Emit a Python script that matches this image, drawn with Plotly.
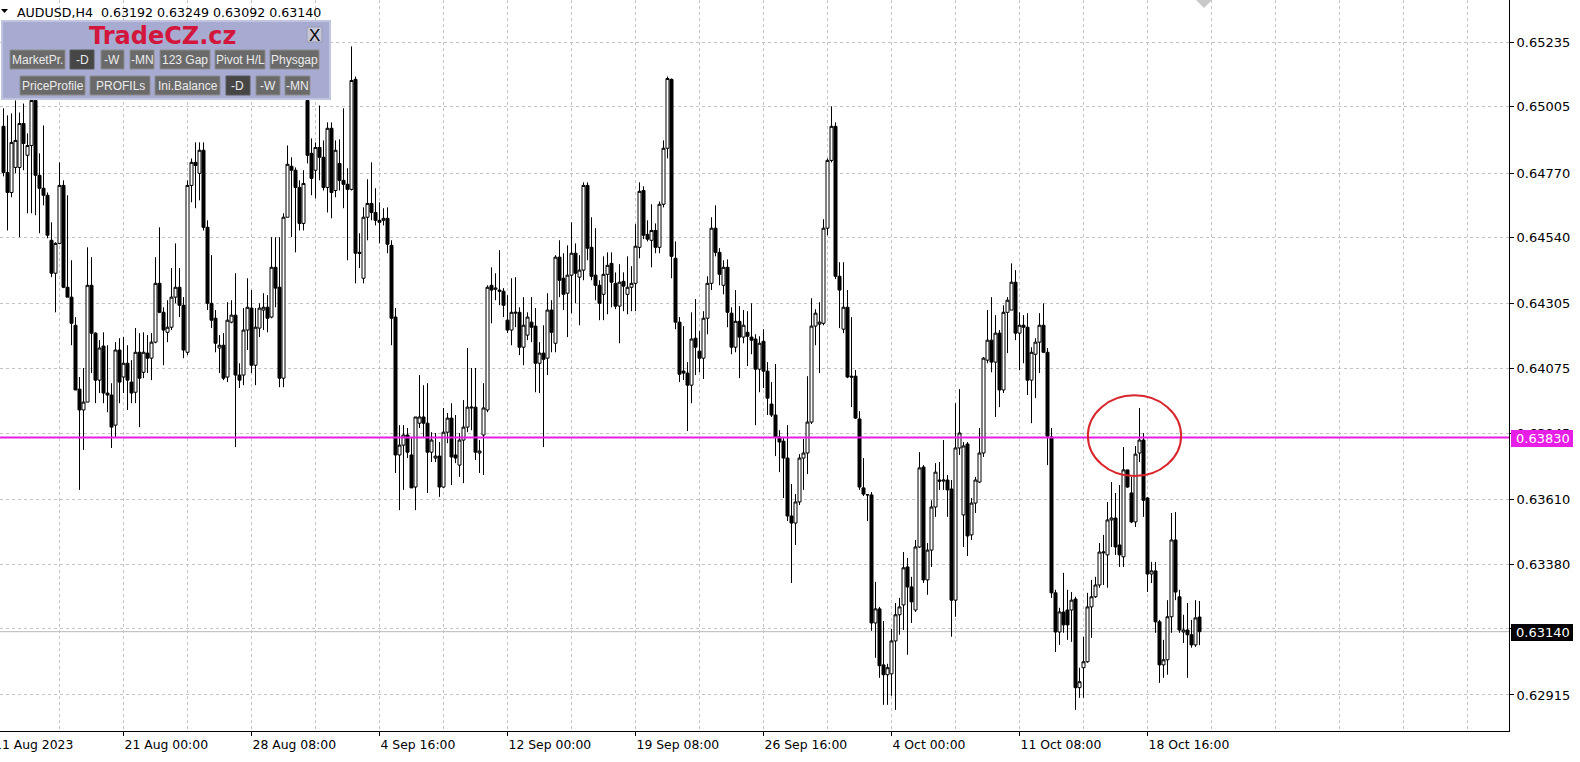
import plotly.graph_objects as go

# ---------------- data ----------------
symbol_title = "AUDUSD,H4  0.63192 0.63249 0.63092 0.63140"

opens = [
0.64936,0.64772,0.64701,0.64790,0.64790,0.64946,0.64833,0.64868,0.65028,0.64762,
0.64716,0.64691,0.64531,0.64414,0.64520,0.64726,0.64364,0.64329,0.64229,0.64002,
0.63928,0.63956,0.64371,0.64201,0.64034,0.64155,0.63988,0.63981,0.63874,0.64141,
0.64045,0.64094,0.64027,0.63991,0.64133,0.64062,0.64130,0.64112,0.64169,0.64378,
0.64275,0.64204,0.64222,0.64329,0.64364,0.64300,0.64133,0.64726,0.64808,0.64769,
0.64851,0.64577,0.64307,0.64254,0.64148,0.64158,0.64045,0.64240,0.64265,0.64052,
0.64052,0.64212,0.64290,0.64087,0.64219,0.64283,0.64293,0.64258,0.64435,0.64364,
0.64041,0.64613,0.64794,0.64780,0.64719,0.64591,0.65028,0.64840,0.64780,0.64861,
0.64826,0.64719,0.64929,0.64708,0.64804,0.64744,0.64730,0.64712,0.65103,0.64488,
0.64396,0.64613,0.64662,0.64630,0.64602,0.64602,0.64609,0.64513,0.64258,0.63768,
0.63803,0.63839,0.63768,0.63654,0.63881,0.63903,0.63881,0.63778,0.63757,0.63764,
0.63654,0.63849,0.63899,0.63768,0.63732,0.63821,0.63867,0.63935,0.63938,0.63775,
0.63839,0.63928,0.64371,0.64357,0.64354,0.64350,0.64247,0.64212,0.64272,0.64275,
0.64151,0.64194,0.64240,0.64226,0.64094,0.64130,0.64112,0.64283,0.64165,0.64471,
0.64396,0.64343,0.64407,0.64485,0.64400,0.64425,0.64726,0.64506,0.64407,0.64371,
0.64339,0.64410,0.64449,0.64378,0.64297,0.64385,0.64339,0.64364,0.64378,0.64506,
0.64708,0.64552,0.64531,0.64566,0.64506,0.64659,0.64858,0.65103,0.64467,0.64240,
0.64066,0.64059,0.64016,0.64183,0.64137,0.64112,0.64254,0.64378,0.64574,0.64488,
0.64371,0.64435,0.64272,0.64151,0.64243,0.64187,0.64204,0.64187,0.64180,0.64073,
0.64172,0.64066,0.63949,0.63910,0.63832,0.63817,0.63757,0.63551,0.63526,0.63601,
0.63757,0.63775,0.63885,0.64226,0.64233,0.64236,0.64574,0.64815,0.64936,0.64403,
0.64215,0.64293,0.64048,0.64048,0.63896,0.63651,0.63626,0.63626,0.63171,0.63221,
0.63022,0.62987,0.62990,0.63107,0.63200,0.63235,0.63370,0.63299,0.63217,0.63441,
0.63725,0.63324,0.63430,0.63583,0.63679,0.63675,0.63679,0.63647,0.63252,0.63793,
0.63555,0.63807,0.63484,0.63597,0.63672,0.63775,0.64105,0.64176,0.64098,0.64201,
0.63999,0.64275,0.64283,0.64382,0.64201,0.64229,0.64222,0.64034,0.64126,0.64169,
0.64229,0.64133,0.63832,0.63278,0.63139,0.63210,0.63217,0.63217,0.63256,0.62941,
0.63012,0.63033,0.63228,0.63264,0.63306,0.63420,0.63413,0.63537,0.63544,0.63448,
0.63406,0.63715,0.63633,0.63530,0.63775,0.63821,0.63615,0.63345,0.63356,0.63175,
0.63022,0.63040,0.63193,0.63466,0.63264,0.63139,0.63146,0.63129,0.63093,0.63192]

highs = [
0.65000,0.64975,0.64982,0.65028,0.64985,0.65017,0.64911,0.65046,0.65046,0.64840,
0.64939,0.64701,0.64595,0.64524,0.64808,0.64744,0.64691,0.64460,0.64258,0.64045,
0.64077,0.64506,0.64471,0.64204,0.64176,0.64204,0.64158,0.64023,0.64169,0.64183,
0.64187,0.64158,0.64105,0.64219,0.64201,0.64204,0.64194,0.64201,0.64471,0.64577,
0.64293,0.64318,0.64432,0.64520,0.64432,0.64329,0.64744,0.64822,0.64879,0.64879,
0.64879,0.64602,0.64478,0.64283,0.64194,0.64201,0.64311,0.64318,0.64414,0.64094,
0.64290,0.64396,0.64354,0.64290,0.64307,0.64343,0.64336,0.64542,0.64542,0.64542,
0.64627,0.64868,0.64826,0.64790,0.64744,0.64780,0.65071,0.64893,0.64879,0.65010,
0.64886,0.64950,0.64950,0.64886,0.64890,0.65000,0.64787,0.65220,0.65113,0.64556,
0.64648,0.64748,0.64808,0.64716,0.64666,0.64645,0.64648,0.64531,0.64290,0.63874,
0.63874,0.63864,0.63828,0.63903,0.64052,0.64016,0.64023,0.63849,0.63846,0.63814,
0.63935,0.63917,0.63952,0.63910,0.63846,0.63963,0.64148,0.64077,0.64077,0.63821,
0.64023,0.64371,0.64435,0.64414,0.64496,0.64361,0.64336,0.64396,0.64400,0.64293,
0.64329,0.64275,0.64329,0.64290,0.64169,0.64229,0.64343,0.64318,0.64478,0.64531,
0.64485,0.64513,0.64595,0.64520,0.64478,0.64737,0.64737,0.64613,0.64574,0.64389,
0.64474,0.64488,0.64488,0.64417,0.64446,0.64417,0.64474,0.64439,0.64588,0.64737,
0.64723,0.64602,0.64659,0.64591,0.64669,0.64886,0.65113,0.65106,0.64527,0.64258,
0.64226,0.64098,0.64275,0.64322,0.64208,0.64279,0.64403,0.64613,0.64655,0.64503,
0.64460,0.64463,0.64293,0.64354,0.64297,0.64283,0.64279,0.64307,0.64197,0.64190,
0.64215,0.64098,0.64027,0.64091,0.63856,0.63832,0.63874,0.63665,0.63629,0.63771,
0.63825,0.64048,0.64325,0.64286,0.64311,0.64606,0.64822,0.65007,0.64950,0.64453,
0.64453,0.64354,0.64258,0.64070,0.63924,0.63757,0.63629,0.63636,0.63317,0.63228,
0.63178,0.63026,0.63150,0.63242,0.63260,0.63423,0.63402,0.63335,0.63466,0.63778,
0.63732,0.63455,0.63607,0.63739,0.63743,0.63821,0.63697,0.63679,0.63952,0.64002,
0.63814,0.63814,0.63615,0.63690,0.63864,0.64116,0.64283,0.64329,0.64265,0.64212,
0.64300,0.64329,0.64449,0.64425,0.64275,0.64265,0.64272,0.64151,0.64183,0.64272,
0.64307,0.64148,0.63864,0.63289,0.63225,0.63349,0.63289,0.63281,0.63264,0.63012,
0.63122,0.63278,0.63324,0.63335,0.63455,0.63484,0.63601,0.63672,0.63633,0.63661,
0.63796,0.63715,0.63690,0.63800,0.63935,0.63846,0.63619,0.63388,0.63388,0.63182,
0.63111,0.63252,0.63562,0.63565,0.63289,0.63200,0.63242,0.63182,0.63252,0.63249]

lows = [
0.64758,0.64566,0.64684,0.64769,0.64542,0.64780,0.64627,0.64627,0.64620,0.64556,
0.64655,0.64538,0.64400,0.64275,0.64517,0.64361,0.64329,0.64158,0.63999,0.63644,
0.63786,0.63956,0.64059,0.63952,0.63988,0.63952,0.63920,0.63793,0.63832,0.63952,
0.63988,0.63928,0.63952,0.63952,0.63867,0.64041,0.64059,0.64034,0.64165,0.64272,
0.64087,0.64169,0.64212,0.64307,0.64258,0.64112,0.64123,0.64666,0.64645,0.64673,
0.64566,0.64283,0.64219,0.64133,0.64059,0.64034,0.64027,0.64236,0.63796,0.64006,
0.64016,0.64141,0.64059,0.64016,0.64187,0.64212,0.64204,0.64254,0.64293,0.64009,
0.64009,0.64613,0.64542,0.64488,0.64566,0.64566,0.64804,0.64691,0.64680,0.64744,
0.64708,0.64630,0.64609,0.64684,0.64708,0.64645,0.64460,0.64708,0.64378,0.64432,
0.64378,0.64531,0.64602,0.64584,0.64520,0.64584,0.64485,0.64158,0.63704,0.63572,
0.63644,0.63757,0.63651,0.63572,0.63864,0.63828,0.63633,0.63743,0.63743,0.63619,
0.63651,0.63810,0.63661,0.63739,0.63690,0.63668,0.63849,0.63856,0.63750,0.63704,
0.63697,0.63920,0.64236,0.64318,0.64300,0.64258,0.64201,0.64158,0.64222,0.64123,
0.64087,0.64176,0.64169,0.63991,0.63988,0.63796,0.64052,0.64133,0.64133,0.64329,
0.64283,0.64187,0.64272,0.64307,0.64229,0.64389,0.64460,0.64389,0.64318,0.64247,
0.64247,0.64268,0.64293,0.64286,0.64165,0.64279,0.64268,0.64279,0.64279,0.64467,
0.64535,0.64527,0.64435,0.64485,0.64485,0.64648,0.64822,0.64396,0.64215,0.64027,
0.64034,0.63853,0.63952,0.64052,0.64062,0.64038,0.64197,0.64354,0.64474,0.64371,
0.64339,0.64222,0.64126,0.64133,0.64041,0.64165,0.64084,0.64126,0.63874,0.63991,
0.64006,0.63910,0.63903,0.63764,0.63707,0.63615,0.63533,0.63313,0.63448,0.63590,
0.63644,0.63700,0.63878,0.64158,0.64059,0.64229,0.64549,0.64808,0.64393,0.64219,
0.64201,0.64041,0.63938,0.63896,0.63644,0.63622,0.63533,0.63143,0.63047,0.62976,
0.62880,0.62880,0.62912,0.62862,0.63129,0.63146,0.63058,0.63171,0.63210,0.63438,
0.63313,0.63271,0.63370,0.63548,0.63644,0.63644,0.63548,0.63122,0.63193,0.63768,
0.63441,0.63409,0.63466,0.63562,0.63668,0.63761,0.64094,0.64062,0.63903,0.63938,
0.63988,0.64130,0.64283,0.64176,0.64069,0.64094,0.63981,0.63881,0.63970,0.64059,
0.64130,0.63732,0.63260,0.63068,0.63093,0.63136,0.63111,0.63104,0.62862,0.62905,
0.62905,0.63029,0.63118,0.63260,0.63296,0.63306,0.63296,0.63441,0.63413,0.63370,
0.63370,0.63651,0.63526,0.63512,0.63743,0.63548,0.63281,0.63313,0.63136,0.62958,
0.62976,0.62987,0.63136,0.63252,0.63136,0.63100,0.62976,0.63083,0.63086,0.63092]

closes = [
0.64772,0.64701,0.64879,0.64886,0.64946,0.64875,0.64868,0.65028,0.64762,0.64716,
0.64691,0.64549,0.64414,0.64520,0.64726,0.64364,0.64329,0.64236,0.63999,0.63928,
0.63956,0.64371,0.64201,0.64034,0.64148,0.63988,0.63981,0.63867,0.64141,0.64027,
0.64094,0.64034,0.63988,0.64133,0.64041,0.64133,0.64112,0.64169,0.64378,0.64275,
0.64212,0.64222,0.64329,0.64364,0.64300,0.64141,0.64726,0.64808,0.64797,0.64851,
0.64577,0.64307,0.64247,0.64165,0.64158,0.64041,0.64247,0.64265,0.64052,0.64034,
0.64212,0.64293,0.64087,0.64222,0.64290,0.64293,0.64254,0.64435,0.64361,0.64041,
0.64613,0.64801,0.64780,0.64719,0.64591,0.64733,0.64833,0.64751,0.64861,0.64826,
0.64719,0.64929,0.64701,0.64851,0.64744,0.64730,0.64712,0.65099,0.64485,0.64485,
0.64613,0.64662,0.64630,0.64602,0.64595,0.64609,0.64517,0.64254,0.63768,0.63803,
0.63839,0.63778,0.63651,0.63903,0.63903,0.63881,0.63778,0.63821,0.63764,0.63654,
0.63849,0.63899,0.63761,0.63757,0.63821,0.63867,0.63938,0.63938,0.63778,0.63782,
0.63935,0.64364,0.64354,0.64361,0.64350,0.64300,0.64212,0.64275,0.64275,0.64151,
0.64229,0.64258,0.64222,0.64094,0.64130,0.64108,0.64283,0.64204,0.64471,0.64389,
0.64339,0.64407,0.64485,0.64414,0.64425,0.64726,0.64503,0.64403,0.64371,0.64307,
0.64410,0.64442,0.64382,0.64297,0.64382,0.64368,0.64364,0.64378,0.64510,0.64705,
0.64549,0.64535,0.64566,0.64506,0.64659,0.64858,0.65106,0.64474,0.64240,0.64055,
0.64059,0.64016,0.64180,0.64151,0.64112,0.64254,0.64378,0.64574,0.64488,0.64410,
0.64435,0.64275,0.64151,0.64243,0.64187,0.64229,0.64190,0.64176,0.64073,0.64165,
0.64066,0.63970,0.63910,0.63832,0.63814,0.63757,0.63551,0.63526,0.63601,0.63757,
0.63775,0.63885,0.64226,0.64272,0.64240,0.64574,0.64815,0.64936,0.64403,0.64354,
0.64293,0.64045,0.64045,0.63899,0.63654,0.63629,0.63627,0.63171,0.63221,0.63019,
0.62987,0.63012,0.63107,0.63200,0.63228,0.63367,0.63299,0.63246,0.63441,0.63722,
0.63324,0.63430,0.63583,0.63707,0.63675,0.63679,0.63644,0.63252,0.63793,0.63846,
0.63800,0.63480,0.63597,0.63679,0.63775,0.64112,0.64176,0.64098,0.64201,0.63999,
0.64275,0.64318,0.64382,0.64201,0.64229,0.64222,0.64034,0.64133,0.64169,0.64229,
0.64133,0.63835,0.63278,0.63139,0.63210,0.63164,0.63164,0.63252,0.62941,0.62962,
0.63033,0.63228,0.63264,0.63306,0.63423,0.63423,0.63537,0.63544,0.63441,0.63413,
0.63715,0.63654,0.63530,0.63771,0.63821,0.63607,0.63345,0.63356,0.63175,0.63022,
0.63040,0.63193,0.63466,0.63281,0.63146,0.63146,0.63129,0.63093,0.63189,0.63140]

n = min(len(opens), len(highs), len(lows), len(closes))
bars = list(range(n))

time_tick_bars = [30, 62, 94, 126, 158, 190, 222, 254, 286]
time_tick_labels = ["21 Aug 00:00", "28 Aug 08:00", "4 Sep 16:00", "12 Sep 00:00",
                    "19 Sep 08:00", "26 Sep 16:00", "4 Oct 00:00", "11 Oct 08:00", "18 Oct 16:00"]
first_time_label = "11 Aug 2023"
price_ticks = [0.65235, 0.65005, 0.64770, 0.64540, 0.64305, 0.64075,
               0.63845, 0.63610, 0.63380, 0.63150, 0.62915]
level_price = 0.63830
bid_price = 0.63140

panel_title = "TradeCZ.cz"
buttons_row1 = ["MarketPr.", "-D", "-W", "-MN", "123 Gap", "Pivot H/L", "Physgap"]
buttons_row2 = ["PriceProfile", "PROFILs", "Ini.Balance", "-D", "-W", "-MN"]

# ---------------- layout geometry ----------------
W, H = 1580, 762
PX0, PX1, PY0, PY1 = 0, 1509, 0, 731


def fx(px):
    return (px - PX0) / (PX1 - PX0)


def fy(py):
    return 1 - (py - PY0) / (PY1 - PY0)


GRID = "#c4c4c4"
BTN_FONT = "Liberation Sans, Arial, sans-serif"
AX_FONT = "DejaVu Sans, Verdana, sans-serif"
X_FONT_SIZE = 12.4

fig = go.Figure()
fig.add_trace(go.Candlestick(
    x=bars, open=opens[:n], high=highs[:n], low=lows[:n], close=closes[:n],
    increasing=dict(line=dict(color="#000000", width=1), fillcolor="#ffffff"),
    decreasing=dict(line=dict(color="#000000", width=1), fillcolor="#000000"),
    whiskerwidth=0, showlegend=False, hoverinfo="skip"))

shapes = []
annotations = []

# bid line and level line
shapes.append(dict(type="line", xref="paper", yref="y", x0=0, x1=1, y0=bid_price, y1=bid_price,
                   line=dict(color="#b8b8b8", width=1), layer="below"))
shapes.append(dict(type="line", xref="paper", yref="y", x0=0, x1=1, y0=level_price, y1=level_price,
                   line=dict(color="#e61ee6", width=2), layer="above"))
# red ellipse
shapes.append(dict(type="circle", xref="x", yref="y", x0=271.1, x1=294.4, y0=0.63693, y1=0.63980,
                   line=dict(color="#d8262c", width=2), layer="above"))

# price boxes on the axis
shapes.append(dict(type="rect", xref="paper", yref="paper", x0=fx(1511), x1=fx(1573), y0=fy(447), y1=fy(430),
                   fillcolor="#e61ee6", line=dict(width=0), layer="above"))
annotations.append(dict(text=f"{level_price:.5f}", xref="paper", yref="paper", x=fx(1514), y=fy(438.5),
                        xanchor="left", yanchor="middle", showarrow=False,
                        font=dict(family=AX_FONT, size=13, color="#ffffff")))
shapes.append(dict(type="rect", xref="paper", yref="paper", x0=fx(1511), x1=fx(1573), y0=fy(641), y1=fy(624),
                   fillcolor="#000000", line=dict(width=0), layer="above"))
annotations.append(dict(text=f"{bid_price:.5f}", xref="paper", yref="paper", x=fx(1514), y=fy(632.5),
                        xanchor="left", yanchor="middle", showarrow=False,
                        font=dict(family=AX_FONT, size=13, color="#ffffff")))

# chart shift marker at top
shapes.append(dict(type="path", xref="paper", yref="paper",
                   path=f"M {fx(1196)},{fy(0)} L {fx(1212)},{fy(0)} L {fx(1204)},{fy(8)} Z",
                   fillcolor="#c8c8c8", line=dict(width=0), layer="above"))

# title
shapes.append(dict(type="path", xref="paper", yref="paper",
                   path=f"M {fx(1)},{fy(9)} L {fx(8)},{fy(9)} L {fx(4.5)},{fy(13)} Z",
                   fillcolor="#000000", line=dict(width=0), layer="above"))
annotations.append(dict(text=symbol_title, xref="paper", yref="paper", x=fx(15), y=fy(12),
                        xanchor="left", yanchor="middle", showarrow=False,
                        font=dict(family=AX_FONT, size=12.6, color="#000000")))

# first (cut) time label
annotations.append(dict(text=first_time_label, xref="paper", yref="paper", x=0, y=fy(745),
                        xanchor="left", yanchor="middle", xshift=-8, showarrow=False,
                        font=dict(family=AX_FONT, size=X_FONT_SIZE, color="#000000")))

# TradeCZ panel
shapes.append(dict(type="rect", xref="paper", yref="paper", x0=fx(2), x1=fx(330), y0=fy(99), y1=fy(21),
                   fillcolor="#a8abd1", line=dict(color="#c3c5e0", width=2), layer="above"))
annotations.append(dict(text=f"<b>{panel_title}</b>", xref="paper", yref="paper", x=fx(163), y=fy(36),
                        xanchor="center", yanchor="middle", showarrow=False,
                        font=dict(family=AX_FONT, size=24, color="#d2163c")))
shapes.append(dict(type="rect", xref="paper", yref="paper", x0=fx(307), x1=fx(322), y0=fy(42), y1=fy(27),
                   fillcolor="#c6c7d6", line=dict(color="#9a9bb4", width=1), layer="above"))
annotations.append(dict(text="X", xref="paper", yref="paper", x=fx(314.5), y=fy(35), xanchor="center",
                        yanchor="middle", showarrow=False,
                        font=dict(family=BTN_FONT, size=17, color="#000000")))

row1_x = [(10, 65), (70, 94), (101, 124), (130, 154), (160, 210), (215, 265), (270, 319)]
row2_x = [(20, 85), (90, 150), (155, 220), (226, 250), (256, 280), (285, 310)]
dark1 = [False, True, False, False, False, False, False]
dark2 = [False, False, False, True, False, False]


def add_buttons(labels, xs, darks, y0, y1):
    for lab, (a, b), dk in zip(labels, xs, darks):
        shapes.append(dict(type="rect", xref="paper", yref="paper", x0=fx(a), x1=fx(b), y0=fy(y1), y1=fy(y0),
                           fillcolor="#464646" if dk else "#6a6a6a",
                           line=dict(color="#8c8c8c" if not dk else "#5a5a5a", width=1), layer="above"))
        annotations.append(dict(text=lab, xref="paper", yref="paper", x=fx((a + b) / 2), y=fy((y0 + y1) / 2 + 0.5),
                                xanchor="center", yanchor="middle", showarrow=False,
                                font=dict(family=BTN_FONT, size=12, color="#ececec")))


add_buttons(buttons_row1, row1_x, dark1, 50, 69)
add_buttons(buttons_row2, row2_x, dark2, 76, 95)

# the 0.63150 label is fully covered by the bid box in the reference
price_tick_text = ["" if abs(v - 0.63150) < 1e-9 else f"{v:.5f}" for v in price_ticks]

fig.update_layout(
    width=W, height=H, autosize=False,
    margin=dict(l=PX0, r=W - PX1, t=PY0, b=H - PY1, pad=0),
    paper_bgcolor="#ffffff", plot_bgcolor="#ffffff",
    showlegend=False, boxgap=0.25, boxgroupgap=0,
    shapes=shapes, annotations=annotations,
    xaxis=dict(range=[-0.875, 376.375], rangeslider=dict(visible=False),
               tickmode="array", tickvals=time_tick_bars, ticktext=time_tick_labels,
               ticks="outside", ticklen=4, tickcolor="#000000", ticklabelposition="outside right",
               ticklabelstandoff=2,
               showline=True, linecolor="#000000", linewidth=1, zeroline=False,
               showgrid=True, gridcolor=GRID, griddash="3px,3px", gridwidth=1,
               minor=dict(tick0=14, dtick=16, showgrid=True, gridcolor=GRID, griddash="3px,3px",
                          gridwidth=1, ticks=""),
               tickfont=dict(family=AX_FONT, size=X_FONT_SIZE, color="#000000"), fixedrange=True),
    yaxis=dict(side="right", range=[0.62787, 0.65385],
               tickmode="array", tickvals=price_ticks, ticktext=price_tick_text,
               ticks="outside", ticklen=4, tickcolor="#000000",
               showline=True, linecolor="#000000", linewidth=1, zeroline=False,
               showgrid=True, gridcolor=GRID, griddash="3px,3px", gridwidth=1,
               tickfont=dict(family=AX_FONT, size=13, color="#000000"), fixedrange=True),
)

fig.write_html("out.html", config={"displayModeBar": False, "staticPlot": True},
               post_script="document.body.style.margin='0px';document.body.style.overflow='hidden';")
